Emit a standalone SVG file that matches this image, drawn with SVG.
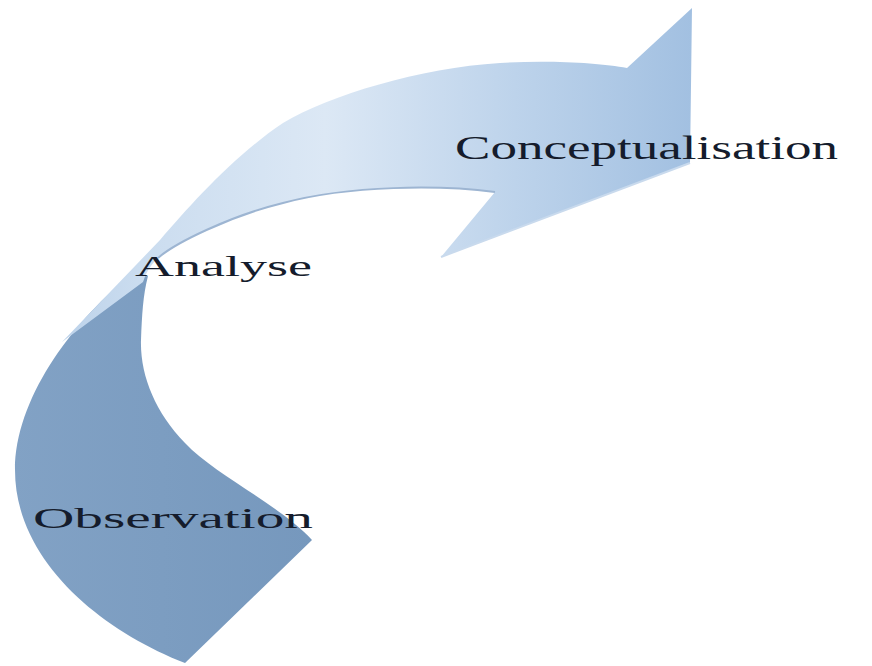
<svg xmlns="http://www.w3.org/2000/svg" width="872" height="666" viewBox="0 0 872 666">
  <defs>
    <linearGradient id="lightGrad" gradientUnits="userSpaceOnUse" x1="60" y1="0" x2="692" y2="0">
      <stop offset="0" stop-color="#bcd2ea"/>
      <stop offset="0.12" stop-color="#cadcef"/>
      <stop offset="0.42" stop-color="#dce8f5"/>
      <stop offset="0.72" stop-color="#bdd3eb"/>
      <stop offset="1" stop-color="#a2c0e1"/>
    </linearGradient>
    <linearGradient id="darkGrad" gradientUnits="userSpaceOnUse" x1="10" y1="0" x2="312" y2="0">
      <stop offset="0" stop-color="#82a2c5"/>
      <stop offset="1" stop-color="#7698bd"/>
    </linearGradient>
  </defs>
  <style>
    .label { font-family: "Liberation Serif", "Times New Roman", serif; fill: #151c2c; }
  </style>
  <rect width="872" height="666" fill="#ffffff"/>
  <g id="arrow">
    <path id="lower-arc" d="M 185,663 L 312,540 C 280,505 215,475 185,443 C 155,412 140,375 141,340 C 142,315 143,295 148,276 L 128,277 C 70,325 15,400 15,470 C 15,560 100,630 185,663 Z" fill="url(#darkGrad)"/>
    <path id="upper-arc" d="M 627,68 L 692,8 L 690,163 L 441,257 L 495,192 C 440,185 350,185 283,203 C 230,216 175,243 158,258 Q 147,268 143,282 L 62,342 L 160,240 C 190,205 235,155 283,123 C 330,95 420,68 500,63 C 550,60 600,63 627,68 Z" fill="url(#lightGrad)"/>
    <path d="M 495,192 C 440,185 350,185 283,203 C 230,216 175,243 158,258" fill="none" stroke="#9db5d2" stroke-width="2"/>
    <path d="M 690,163 L 441,257" fill="none" stroke="#c9daed" stroke-width="2"/>
  </g>
  <g id="conceptualisation">
    <text class="label" x="455" y="159" font-size="33" textLength="383" lengthAdjust="spacingAndGlyphs">Conceptualisation</text>
  </g>
  <g id="analyse">
    <text class="label" x="135" y="276" font-size="29" textLength="177" lengthAdjust="spacingAndGlyphs">Analyse</text>
  </g>
  <g id="observation">
    <text class="label" x="33" y="528" font-size="30" textLength="280" lengthAdjust="spacingAndGlyphs">Observation</text>
  </g>
</svg>
